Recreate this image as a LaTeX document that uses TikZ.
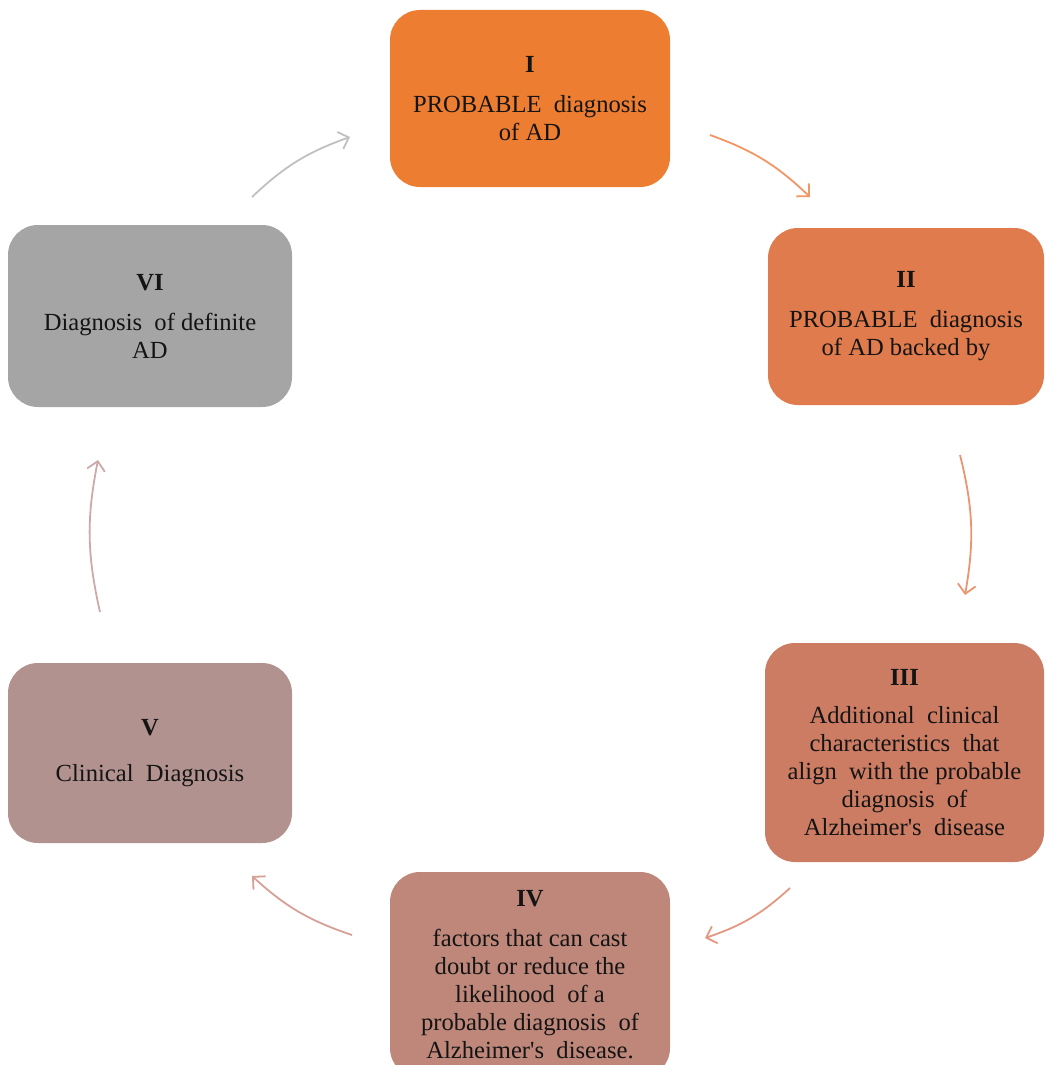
\documentclass[tikz,border=0pt]{standalone}
\usepackage{fontspec}
\setmainfont{Liberation Serif}
\usepackage{xcolor}
\usepackage{tikz}
\usetikzlibrary{arrows.meta, positioning}
\definecolor{stageI}{RGB}{237, 125, 49}
\definecolor{stageII}{RGB}{223, 123, 76}
\definecolor{stageIII}{RGB}{204, 124, 99}
\definecolor{stageIV}{RGB}{190, 135, 122}
\definecolor{stageV}{RGB}{178, 146, 143}
\definecolor{stageVI}{RGB}{165, 165, 165}
\definecolor{arrI}{RGB}{242, 150, 100}
\definecolor{arrII}{RGB}{236, 148, 112}
\definecolor{arrIII}{RGB}{226, 152, 130}
\definecolor{arrIV}{RGB}{214, 160, 150}
\definecolor{arrV}{RGB}{204, 170, 170}
\definecolor{arrVI}{RGB}{192, 192, 192}

\begin{document}
\begin{tikzpicture}[
    x=0.5pt, y=-0.5pt,
    stagebox/.style={rectangle, rounded corners=15pt, draw=none, text=black!92, align=center, font=\fontsize{12.3}{14}\selectfont, inner sep=1pt},
    cyclearrow/.style={-{Straight Barb[length=4.5pt, width=9pt]}, line width=0.9pt, bend left=12}
]
\useasboundingbox (0,0) rectangle (1044,1065);
\clip (0,0) rectangle (1044,1065);

% Stages
\node[stagebox, fill=stageI, minimum width=140pt, minimum height=88.5pt] (probable) at (530,98.5)
  {\textbf{I}\\[6pt]PROBABLE\ \ diagnosis\\of AD};
\node[stagebox, fill=stageII, minimum width=138pt, minimum height=88.5pt] (backed) at (906,316.5)
  {\textbf{II}\\[6pt]PROBABLE\ \ diagnosis\\of AD backed by};
\node[stagebox, fill=stageIII, minimum width=139.5pt, minimum height=109.5pt] (clinical) at (904.5,752.5)
  {\textbf{III}\\[5pt]Additional\ \ clinical\\characteristics\ \ that\\align\ \ with the probable\\diagnosis\ \ of\\Alzheimer\textquotesingle s\ \ disease};
\node[stagebox, fill=stageIV, minimum width=140pt, minimum height=103pt] (doubt) at (530,975)
  {\textbf{IV}\\[6pt]factors that can cast\\doubt or reduce the\\likelihood\ \ of a\\probable diagnosis\ \ of\\Alzheimer\textquotesingle s\ \ disease.};
\node[stagebox, fill=stageV, minimum width=142pt, minimum height=90pt] (clindiag) at (150,753)
  {\textbf{V}\\[9pt]Clinical\ \ Diagnosis};
\node[stagebox, fill=stageVI, minimum width=142pt, minimum height=91pt] (definite) at (150,316)
  {\textbf{VI}\\[6pt]Diagnosis\ \ of definite\\AD};

% Arrow ends
\coordinate (a1) at (710,135);  \coordinate (b1) at (810,197);
\coordinate (a2) at (960,455);  \coordinate (b2) at (965,595);
\coordinate (a3) at (790,888);  \coordinate (b3) at (705,938);
\coordinate (a4) at (352,935);  \coordinate (b4) at (252,876);
\coordinate (a5) at (100,612);  \coordinate (b5) at (98,460);
\coordinate (a6) at (252,197);  \coordinate (b6) at (350,137);

\draw[cyclearrow, arrI] (a1) to (b1);
\draw[cyclearrow, arrII] (a2) to (b2);
\draw[cyclearrow, arrIII] (a3) to (b3);
\draw[cyclearrow, arrIV] (a4) to (b4);
\draw[cyclearrow, arrV] (a5) to (b5);
\draw[cyclearrow, arrVI] (a6) to (b6);
\end{tikzpicture}
\end{document}
